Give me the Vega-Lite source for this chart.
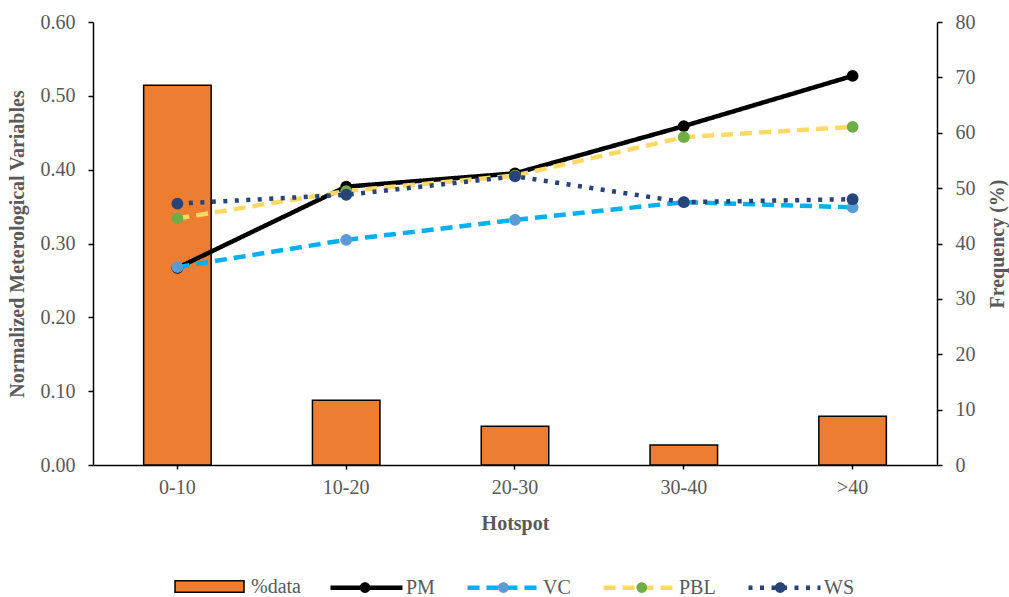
{
  "$schema": "https://vega.github.io/schema/vega-lite/v6.json",
  "width": 844,
  "height": 443,
  "autosize": {"type": "none"},
  "padding": {"left": 93, "top": 22, "right": 72, "bottom": 132},
  "background": "white",
  "config": {
    "view": {"stroke": null},
    "font": "Liberation Serif",
    "axis": {
      "grid": false,
      "domainColor": "black",
      "domainWidth": 1.5,
      "tickColor": "black",
      "tickWidth": 1.5,
      "labelFont": "Liberation Serif",
      "labelFontSize": 20,
      "labelColor": "#595959",
      "titleFont": "Liberation Serif",
      "titleFontSize": 20,
      "titleFontWeight": "bold",
      "titleColor": "#595959"
    },
    "legend": {
      "padding": 0,
      "labelFont": "Liberation Serif",
      "labelFontSize": 20,
      "labelColor": "#595959"
    }
  },
  "datasets": {
    "bars": [
      {"hotspot": "0-10", "freq": 68.6, "series": "%data"},
      {"hotspot": "10-20", "freq": 11.7, "series": "%data"},
      {"hotspot": "20-30", "freq": 7.0, "series": "%data"},
      {"hotspot": "30-40", "freq": 3.6, "series": "%data"},
      {"hotspot": ">40", "freq": 8.8, "series": "%data"}
    ],
    "lines": [
      {"hotspot": "0-10", "variable": "PM", "value": 0.267},
      {"hotspot": "10-20", "variable": "PM", "value": 0.377},
      {"hotspot": "20-30", "variable": "PM", "value": 0.395},
      {"hotspot": "30-40", "variable": "PM", "value": 0.459},
      {"hotspot": ">40", "variable": "PM", "value": 0.527},
      {"hotspot": "0-10", "variable": "VC", "value": 0.268},
      {"hotspot": "10-20", "variable": "VC", "value": 0.305},
      {"hotspot": "20-30", "variable": "VC", "value": 0.332},
      {"hotspot": "30-40", "variable": "VC", "value": 0.356},
      {"hotspot": ">40", "variable": "VC", "value": 0.349},
      {"hotspot": "0-10", "variable": "PBL", "value": 0.334},
      {"hotspot": "10-20", "variable": "PBL", "value": 0.371},
      {"hotspot": "20-30", "variable": "PBL", "value": 0.392},
      {"hotspot": "30-40", "variable": "PBL", "value": 0.444},
      {"hotspot": ">40", "variable": "PBL", "value": 0.458},
      {"hotspot": "0-10", "variable": "WS", "value": 0.354},
      {"hotspot": "10-20", "variable": "WS", "value": 0.366},
      {"hotspot": "20-30", "variable": "WS", "value": 0.391},
      {"hotspot": "30-40", "variable": "WS", "value": 0.356},
      {"hotspot": ">40", "variable": "WS", "value": 0.360}
    ]
  },
  "layer": [
    {
      "data": {"name": "bars"},
      "mark": {"type": "bar", "stroke": "black", "strokeWidth": 1.5},
      "encoding": {
        "x": {
          "field": "hotspot", "type": "nominal",
          "sort": ["0-10", "10-20", "20-30", "30-40", ">40"],
          "scale": {"paddingInner": 0.6, "paddingOuter": 0.3},
          "axis": {"title": "Hotspot", "labelAngle": 0, "tickSize": 4, "labelPadding": 8, "titlePadding": 16}
        },
        "y": {
          "field": "freq", "type": "quantitative",
          "scale": {"domain": [0, 80]},
          "axis": {"orient": "right", "title": "Frequency (%)", "values": [0, 10, 20, 30, 40, 50, 60, 70, 80], "tickSize": 5, "labelPadding": 13, "titlePadding": 32, "titleAngle": 270}
        },
        "fill": {
          "field": "series", "type": "nominal",
          "scale": {"domain": ["%data"], "range": ["#ED7D31"]},
          "legend": {
            "title": null,
            "orient": "none",
            "legendX": 81,
            "legendY": 529,
            "direction": "horizontal",
            "symbolType": "M-1,-0.17H1V0.17H-1Z",
            "symbolSize": 4761,
            "symbolStrokeColor": "black",
            "symbolStrokeWidth": 1.5,
            "symbolOpacity": 1,
            "labelOffset": 6
          }
        }
      }
    },
    {
      "data": {"name": "lines"},
      "layer": [
        {
          "mark": {"type": "line", "strokeWidth": 4.5, "strokeCap": "butt", "strokeJoin": "round"},
          "encoding": {
            "x": {"field": "hotspot", "type": "nominal", "sort": ["0-10", "10-20", "20-30", "30-40", ">40"]},
            "y": {
              "field": "value", "type": "quantitative",
              "scale": {"domain": [0, 0.6]},
              "axis": {"orient": "left", "title": "Normalized Meterological Variables", "values": [0, 0.1, 0.2, 0.3, 0.4, 0.5, 0.6], "format": ".2f", "tickSize": 5, "labelPadding": 13, "titlePadding": 13}
            },
            "stroke": {
              "field": "variable", "type": "nominal",
              "scale": {"domain": ["PM", "VC", "PBL", "WS"], "range": ["#000000", "#00B0F0", "#FFD966", "#264478"]},
              "legend": {
                "title": null,
                "orient": "none",
                "legendX": 235,
                "legendY": 527,
                "direction": "horizontal",
                "columns": 4,
                "columnPadding": 23,
                "symbolType": "M-1,0H1",
                "symbolSize": 5184,
                "symbolStrokeWidth": 4.5,
                "symbolOpacity": 1,
                "labelOffset": 1,
                "zindex": 0
              }
            },
            "strokeDash": {
              "field": "variable", "type": "nominal",
              "scale": {"domain": ["PM", "VC", "PBL", "WS"], "range": [[1, 0], [12, 7], [12, 7], [4, 7.5]]}
            }
          }
        },
        {
          "mark": {"type": "point", "filled": true, "size": 140, "opacity": 1, "shape": "circle"},
          "encoding": {
            "x": {"field": "hotspot", "type": "nominal", "sort": ["0-10", "10-20", "20-30", "30-40", ">40"]},
            "y": {"field": "value", "type": "quantitative"},
            "fill": {
              "field": "variable", "type": "nominal",
              "sort": ["PM", "VC", "PBL", "WS"],
              "scale": {"range": ["#000000", "#5B9BD5", "#70AD47", "#264478"]},
              "legend": {
                "title": null,
                "orient": "none",
                "legendX": 233.5,
                "legendY": 527,
                "direction": "horizontal",
                "columns": 4,
                "columnPadding": 56.4,
                "symbolType": "M0.15,0A0.15,0.15,0,1,1,-0.15,0A0.15,0.15,0,1,1,0.15,0Z",
                "symbolSize": 5184,
                "symbolStrokeWidth": 4.5,
                "symbolStrokeColor": "transparent",
                "symbolOpacity": 1,
                "labelOffset": 5,
                "labelExpr": "datum.label === 'PM' ? '     \u2009' : datum.label === 'VC' ? '    \u2009\u2009' : datum.label === 'PBL' ? '     \u2009\u2009\u2009' : '      '",
                "zindex": 1
              }
            }
          }
        }
      ]
    }
  ],
  "resolve": {"scale": {"y": "independent", "fill": "independent"}}
}
